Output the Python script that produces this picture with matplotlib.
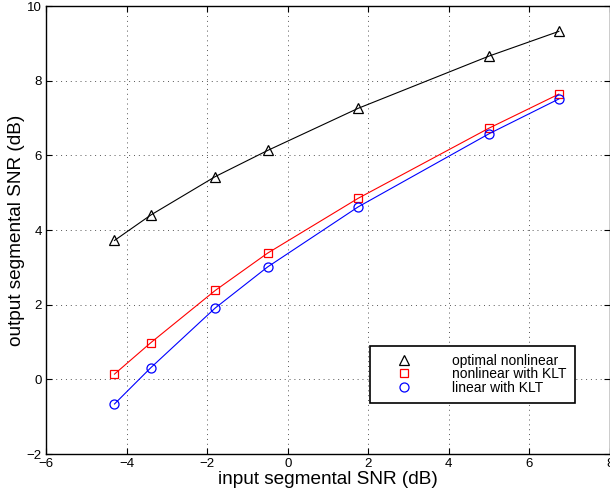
import matplotlib.pyplot as plt
from matplotlib.lines import Line2D

plt.rcParams['font.family'] = ['Liberation Sans', 'DejaVu Sans']

# input SNR of each test condition (dB)
snr_in = [-4.3, -3.4, -1.8, -0.5, 1.75, 5.0, 6.73]

# output segmental SNR (dB) for each method
opt_nonlin = [3.72, 4.40, 5.43, 6.13, 7.26, 8.66, 9.32]
nonlin_klt = [0.14, 0.98, 2.38, 3.38, 4.85, 6.73, 7.64]
lin_klt = [-0.66, 0.31, 1.91, 3.01, 4.62, 6.58, 7.51]

labels = ['optimal nonlinear', 'nonlinear with KLT', 'linear with KLT']

fig = plt.figure(figsize=(6.1, 4.92), dpi=100)
ax = fig.add_axes([0.0754, 0.0772, 0.9246, 0.9106])

ax.plot(snr_in, opt_nonlin, color='black', lw=0.8, marker='^', ms=7,
        mfc='none', mec='black', mew=0.9)
ax.plot(snr_in, nonlin_klt, color='red', lw=0.8, marker='s', ms=5.5,
        mfc='none', mec='red', mew=0.9)
ax.plot(snr_in, lin_klt, color='blue', lw=0.8, marker='o', ms=6.5,
        mfc='none', mec='blue', mew=0.9)

ax.set_xlim(-6, 8)
ax.set_ylim(-2, 10)
ax.set_xticks(range(-6, 9, 2))
ax.set_yticks(range(-2, 11, 2))
ax.grid(True, linestyle=(0, (1, 4)), color='#555555', lw=0.7)
ax.tick_params(direction='in', top=True, right=True, labelsize=9.5,
               length=4, width=0.8, pad=3)
for s in ax.spines.values():
    s.set_linewidth(1.0)

ax.set_xlabel('input segmental SNR (dB)', fontsize=13.7, labelpad=0.5)
ax.set_ylabel('output segmental SNR (dB)', fontsize=13.7, labelpad=1)

handles = [
    Line2D([], [], ls='none', marker='^', ms=7, mfc='none', mec='black', mew=0.9),
    Line2D([], [], ls='none', marker='s', ms=5.5, mfc='none', mec='red', mew=0.9),
    Line2D([], [], ls='none', marker='o', ms=6.5, mfc='none', mec='blue', mew=0.9),
]
leg = ax.legend(handles, labels, loc='lower left',
                bbox_to_anchor=(0.574, 0.114), fontsize=10, frameon=True,
                fancybox=False, edgecolor='black', framealpha=1,
                handlelength=3.7, handletextpad=1.6, labelspacing=-0.05,
                borderpad=0.6, borderaxespad=0)
leg.get_frame().set_linewidth(1.2)

fig.savefig('out.png', dpi=100)
